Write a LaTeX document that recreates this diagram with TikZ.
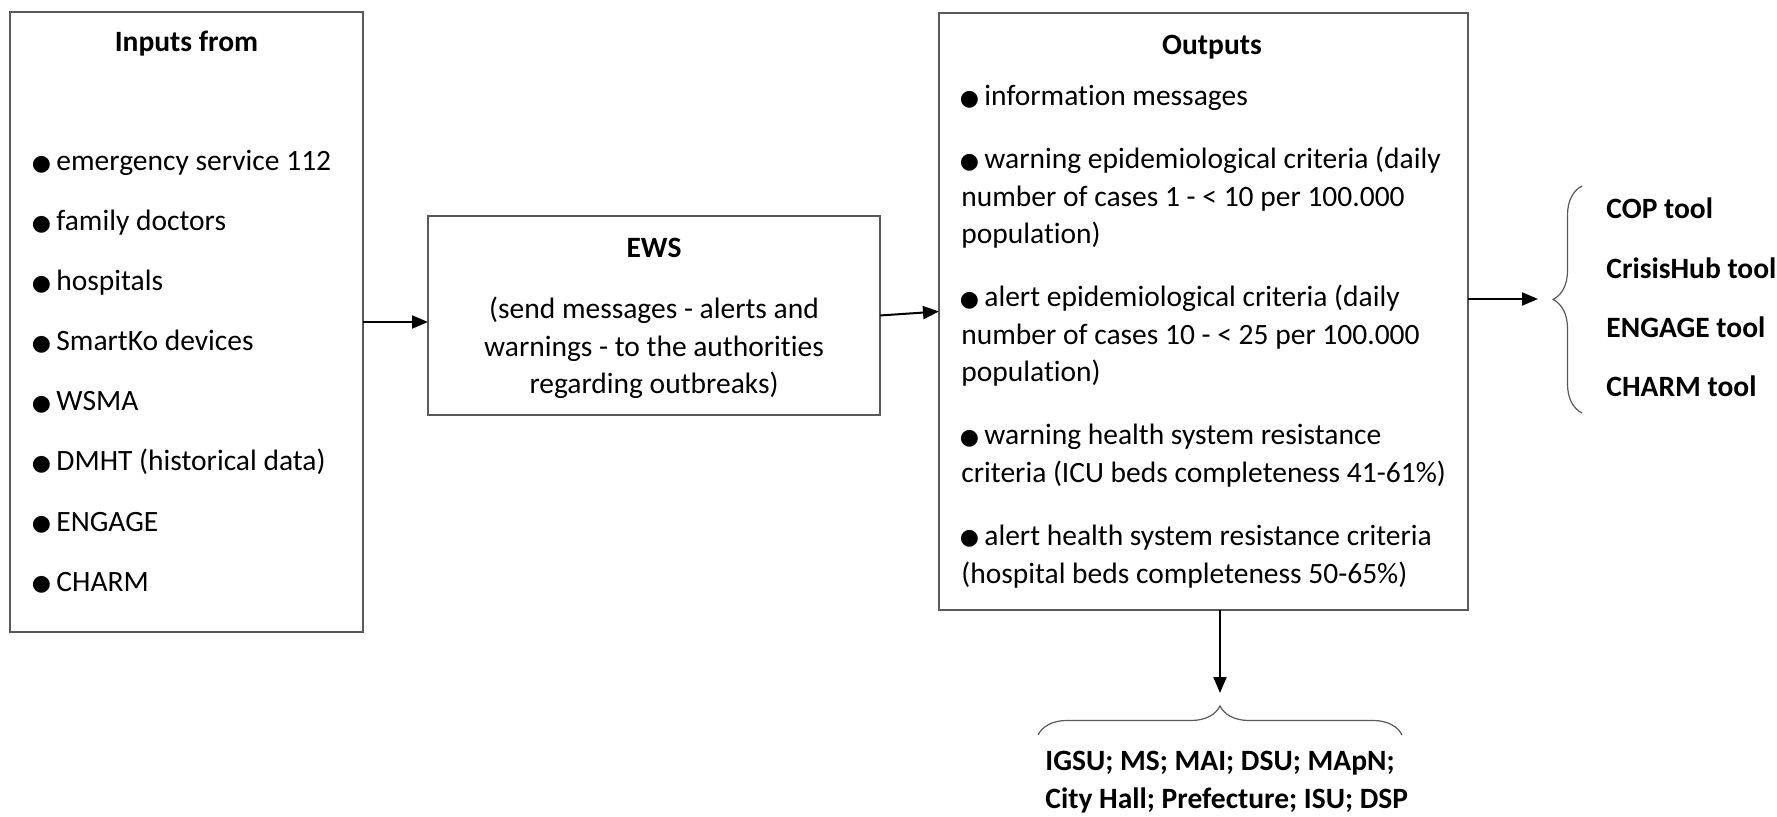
\documentclass[tikz,border=0pt]{standalone}
\usepackage{fontspec}
\setmainfont{Carlito}[Ligatures=NoCommon]
\newfontfamily\symfont{DejaVu Sans}
\usetikzlibrary{arrows.meta,decorations.pathreplacing}
\definecolor{boxgray}{RGB}{89,89,89}
\newcommand{\bul}{\makebox[11.5pt][l]{\hspace{-0.8pt}\raisebox{0.4pt}{\symfont\fontsize{11pt}{11pt}\selectfont ●}}}

\begin{document}
\begin{tikzpicture}[x=0.5pt,y=-0.5pt,
    every node/.style={font=\fontsize{14.75pt}{18.75pt}\selectfont, inner sep=0pt},
    frame/.style={draw=boxgray, line width=1pt, outer sep=0pt},
    txt/.style={anchor=base west, align=left},
    hd/.style={anchor=base, font=\fontsize{14.75pt}{18.75pt}\selectfont\bfseries},
    arr/.style={-{Triangle[length=8pt,width=6.5pt]}, line width=1pt},
    brc/.style={decorate, decoration={brace, amplitude=14.5pt}, draw=boxgray, line width=0.6pt}]
            \useasboundingbox (0,0) rectangle (1777,817);

            % boxes
            \node[frame, minimum width=176.5pt, minimum height=310pt] (In) at (186.5,322) {};
            \node[frame, minimum width=226pt, minimum height=99.5pt] (EWS) at (654,315.5) {};
            \node[frame, minimum width=264.5pt, minimum height=298.5pt] (Out) at (1203.5,311.5) {};

            % inputs (base of a multi-line node = its last line)
            \node[hd] (InT) at (186.5,52) {Inputs from};
            \node[txt] (i1) at (33,171) {\bul emergency service 112};
            \node[txt] (i2) at (33,231) {\bul family doctors};
            \node[txt] (i3) at (33,291) {\bul hospitals};
            \node[txt] (i4) at (33,351) {\bul SmartKo devices};
            \node[txt] (i5) at (33,411) {\bul WSMA};
            \node[txt] (i6) at (33,471) {\bul DMHT (historical data)};
            \node[txt] (i7) at (33,531) {\bul ENGAGE};
            \node[txt] (i8) at (33,591) {\bul CHARM};

            % early warning system
            \node[hd] (EWST) at (654,258) {EWS};
            \node[anchor=base, align=center] (EWSb) at (654,394) {(send messages - alerts and\\warnings - to the authorities\\regarding outbreaks)};

            % outputs
            \node[hd] (OutT) at (1212,55) {Outputs};
            \node[txt] (o1) at (961,106) {\bul information messages};
            \node[txt] (o2) at (961,244) {\bul warning epidemiological criteria (daily\\number of cases 1 - < 10 per 100.000\\population)};
            \node[txt] (o3) at (961,382) {\bul alert epidemiological criteria (daily\\number of cases 10 - < 25 per 100.000\\population)};
            \node[txt] (o4) at (961,482.5) {\bul warning health system resistance\\criteria (ICU beds completeness 41-61\%)};
            \node[txt] (o5) at (961,583) {\bul alert health system resistance criteria\\(hospital beds completeness 50-65\%)};

            % tools and authorities
            \node[hd, anchor=base west] (t1) at (1606,219) {COP tool};
            \node[hd, anchor=base west] (t2) at (1606,279) {CrisisHub tool};
            \node[hd, anchor=base west] (t3) at (1606,338) {ENGAGE tool};
            \node[hd, anchor=base west] (t4) at (1606,397) {CHARM tool};
            \node[hd, anchor=base west, align=left] (org) at (1045,808) {IGSU; MS; MAI; DSU; MApN;\\City Hall; Prefecture; ISU; DSP};

            \coordinate (toolsIn) at (1538,299);
            \coordinate (orgIn) at (1220,693);

            \draw[arr] (In.east) -- (In.east -| EWS.west);
            \draw[arr] (EWS.east) -- (Out.west);
            \draw[arr] (Out.east |- toolsIn) -- (toolsIn);
            \draw[arr] (Out.south -| orgIn) -- (orgIn);

            \draw[brc] (1582,413) -- (1582,186);
            \draw[brc] (1038,735) -- (1402,735);
        \end{tikzpicture}
\end{document}
